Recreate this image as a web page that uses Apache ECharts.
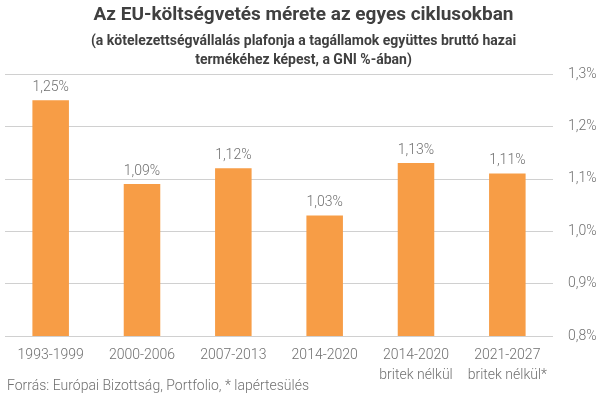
<!DOCTYPE html>
<html><head><meta charset="utf-8">
<script src="https://cdn.jsdelivr.net/npm/echarts@6/dist/echarts.min.js"></script>
<style>html,body{margin:0;padding:0;background:#fff}#c{width:607px;height:395px}</style>
</head><body><div id="c"></div>
<script>
const categories = ['1993-1999','2000-2006','2007-2013','2014-2020','2014-2020\nbritek nélkül','2021-2027\nbritek nélkül*'];
const values = [1.25, 1.09, 1.12, 1.03, 1.13, 1.11];
const titleText = 'Az EU-költségvetés mérete az egyes ciklusokban';
const subtitleText = '(a kötelezettségvállalás plafonja a tagállamok együttes bruttó hazai\ntermékéhez képest, a GNI %-ában)';
const sourceText = 'Forrás: Európai Bizottság, Portfolio, * lapértesülés';
const fmt = v => v.toFixed(2).replace('.', ',') + '%';
const chart = echarts.init(document.getElementById('c'), null, {renderer:'canvas'});
chart.setOption({
  animation:false,
  textStyle:{fontFamily:'Roboto'},
  title:[
    {text:titleText, left:'center', top:1, textStyle:{fontFamily:'Roboto', fontWeight:'bold', fontSize:19, color:'#404040'}},
    {text:subtitleText, left:'center', top:27, textStyle:{fontFamily:'Roboto', fontWeight:'bold', fontSize:14, lineHeight:19, color:'#404040'}},
    {text:sourceText, left:2, top:374, textStyle:{fontFamily:'Roboto', fontWeight:300, fontSize:14, color:'#707070'}}
  ],
  grid:{left:5, right:54, top:74, bottom:59},
  xAxis:{type:'category', data:categories, axisLine:{show:false}, axisTick:{show:false},
    axisLabel:{color:'#707070', fontSize:14, fontWeight:300, margin:9, lineHeight:20, interval:0}},
  yAxis:{type:'value', position:'right', min:0.8, max:1.3, interval:0.1,
    axisLine:{show:false}, axisTick:{show:false},
    splitLine:{lineStyle:{color:'#d0d0d0', width:1}},
    axisLabel:{color:'#707070', fontSize:14, fontWeight:300, margin:15, formatter:v=>v.toFixed(1).replace('.', ',')+'%'}},
  series:[{type:'bar', data:values, barWidth:'40%', itemStyle:{color:'#F79D46'},
    label:{show:true, position:'top', distance:6, color:'#707070', fontSize:14, fontWeight:300, formatter:p=>fmt(p.value)}}]
});
</script></body></html>
